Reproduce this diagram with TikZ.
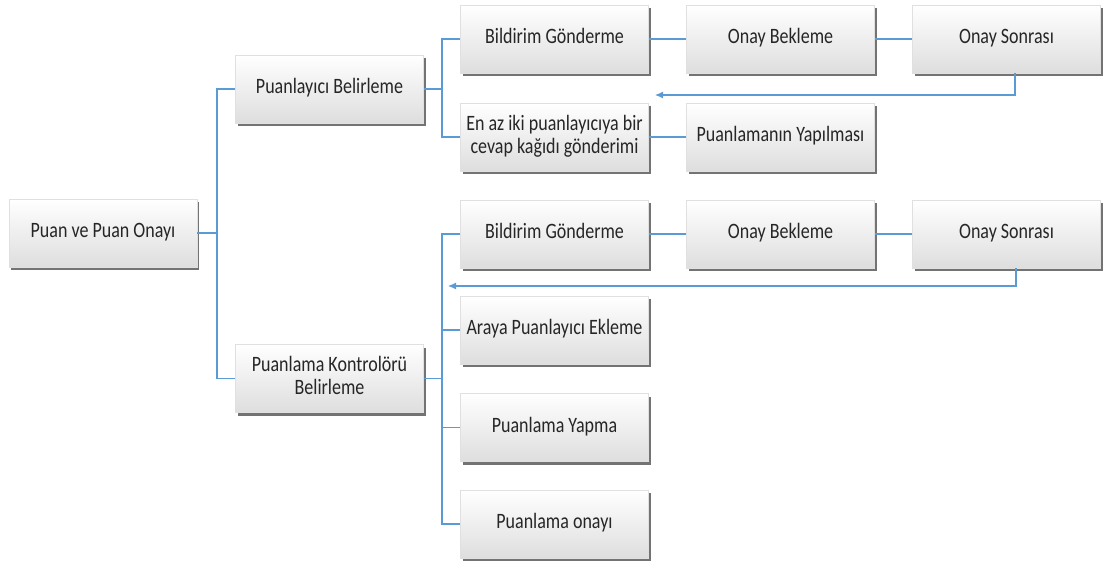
\documentclass[tikz,border=0pt]{standalone}
\usepackage{fontspec}
\setmainfont{Carlito}
\usetikzlibrary{shadows,arrows.meta}
\definecolor{linkblue}{RGB}{91,155,213}
\definecolor{txt}{RGB}{38,38,38}
\newcommand{\tallbox}[1]{\scalebox{1}[1.22]{\begin{tabular}{@{}c@{}}#1\end{tabular}}}
\tikzset{
  card/.style={rectangle, minimum width=188pt, minimum height=68pt, inner sep=1pt,
    draw=black!12, top color=white, bottom color=black!13, text=txt,
    font=\fontsize{18}{19}\selectfont,
    drop shadow={shadow xshift=2pt, shadow yshift=-3pt, fill=black, opacity=0.55}},
  link/.style={draw=linkblue, line width=1.1pt},
  back/.style={link, -{Latex[length=8pt,width=7pt]}}
}
\begin{document}
\begin{tikzpicture}[x=1pt,y=-1pt]
\useasboundingbox (0,0) rectangle (1104,563);
% first level
\node[card] (root) at (103,233) {\tallbox{Puan ve Puan Onayı}};
\node[card] (pb) at (329.5,89) {\tallbox{Puanlayıcı Belirleme}};
\node[card] (pk) at (329.5,378.5) {\tallbox{Puanlama Kontrolörü\\Belirleme}};
% upper branch
\node[card] (bg1) at (554.5,39) {\tallbox{Bildirim Gönderme}};
\node[card] (ob1) at (780.5,39) {\tallbox{Onay Bekleme}};
\node[card] (os1) at (1006.5,39) {\tallbox{Onay Sonrası}};
\node[card] (en) at (554.5,137) {\tallbox{En az iki puanlayıcıya bir\\cevap kağıdı gönderimi}};
\node[card] (py) at (780.5,137) {\tallbox{Puanlamanın Yapılması}};
% lower branch
\node[card] (bg2) at (554.5,234) {\tallbox{Bildirim Gönderme}};
\node[card] (ob2) at (780.5,234) {\tallbox{Onay Bekleme}};
\node[card] (os2) at (1006.5,234) {\tallbox{Onay Sonrası}};
\node[card] (ar) at (554.5,330) {\tallbox{Araya Puanlayıcı Ekleme}};
\node[card] (pyap) at (554.5,427.5) {\tallbox{Puanlama Yapma}};
\node[card] (pon) at (554.5,524) {\tallbox{Puanlama onayı}};
% junctions
\coordinate (j0) at (217,233);
\coordinate (j1) at (442,89);
\coordinate (j2) at (442,378.5);
\coordinate (r1) at (1015,95);
\coordinate (t1) at (655,95);
\coordinate (r2) at (1016,286);
\coordinate (t2) at (448,286);
% connectors
\draw[link] (root.east) -- (j0) |- (pb.west);
\draw[link] (j0) |- (pk.west);
\draw[link] (pb.east) -- (j1) |- (bg1.west);
\draw[link] (j1) |- (en.west);
\draw[link] (bg1) -- (ob1);
\draw[link] (ob1) -- (os1);
\draw[link] (en) -- (py);
\draw[link] (pk.east) -- (j2) |- (bg2.west);
\draw[link] (j2) |- (ar.west);
\draw[link] (j2) |- (pyap.west);
\draw[link] (j2) |- (pon.west);
\draw[link] (bg2) -- (ob2);
\draw[link] (ob2) -- (os2);
\draw[back] (os1.south -| r1) -- (r1) -- (t1);
\draw[back] (os2.south -| r2) -- (r2) -- (t2);
\end{tikzpicture}
\end{document}
